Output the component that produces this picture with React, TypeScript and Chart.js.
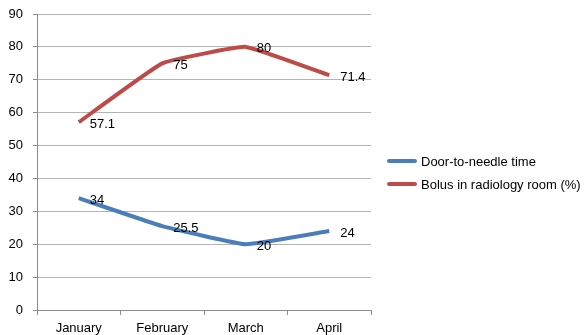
import React, { useEffect, useRef } from "react";
import { Chart, registerables } from "chart.js";

Chart.register(...registerables);

const months = ["January", "February", "March", "April"];
const doorToNeedle = [34, 25.5, 20, 24];
const bolusInRadiology = [57.1, 75, 80, 71.4];
const seriesNames = ["Door-to-needle time", "Bolus in radiology room (%)"];
const seriesColors = ["#4A7EBB", "#BE4B48"];

const FONT = "'Liberation Sans', Arial, Helvetica, sans-serif";

// Writes each point's value just to the right of it.
const valueLabels = {
  id: "valueLabels",
  afterDatasetsDraw(chart: any) {
    const { ctx } = chart;
    ctx.save();
    ctx.font = `13px ${FONT}`;
    ctx.fillStyle = "#000";
    ctx.textAlign = "left";
    ctx.textBaseline = "middle";
    chart.data.datasets.forEach((ds: any, i: number) => {
      const meta = chart.getDatasetMeta(i);
      meta.data.forEach((pt: any, j: number) => {
        ctx.fillText(String(ds.data[j]), pt.x + 11, pt.y + 2);
      });
    });
    ctx.restore();
  },
};

// Legend on the right: a short thick line then the series name.
const sideLegend = {
  id: "sideLegend",
  afterDraw(chart: any) {
    const { ctx } = chart;
    ctx.save();
    ctx.font = `13px ${FONT}`;
    ctx.textAlign = "left";
    ctx.textBaseline = "middle";
    chart.data.datasets.forEach((ds: any, i: number) => {
      const y = 161 + i * 23;
      ctx.strokeStyle = ds.borderColor;
      ctx.lineWidth = 4;
      ctx.lineCap = "round";
      ctx.beginPath();
      ctx.moveTo(389, y);
      ctx.lineTo(415, y);
      ctx.stroke();
      ctx.fillStyle = "#000";
      ctx.fillText(ds.label, 421, y + 1);
    });
    ctx.restore();
  },
};

export default function App() {
  const canvasRef = useRef<HTMLCanvasElement>(null);

  useEffect(() => {
    if (!canvasRef.current) return;
    const chart = new Chart(canvasRef.current, {
      type: "line",
      data: {
        labels: months,
        datasets: [
          {
            label: seriesNames[0],
            data: doorToNeedle,
            borderColor: seriesColors[0],
            backgroundColor: seriesColors[0],
            borderWidth: 4,
            pointRadius: 0,
            tension: 0.1,
          },
          {
            label: seriesNames[1],
            data: bolusInRadiology,
            borderColor: seriesColors[1],
            backgroundColor: seriesColors[1],
            borderWidth: 4,
            pointRadius: 0,
            tension: 0.1,
          },
        ],
      },
      options: {
        responsive: false,
        animation: false,
        layout: { padding: { top: 14, right: 213, left: 0, bottom: 0 } },
        plugins: {
          legend: { display: false },
          tooltip: { enabled: false },
        },
        scales: {
          x: {
            offset: true,
            afterFit(scale: any) {
              scale.height = 25;
              scale.paddingLeft = 0;
              scale.paddingRight = 0;
            },
            grid: {
              offset: true,
              drawOnChartArea: false,
              drawTicks: true,
              tickLength: 5,
              color: "#8c8c8c",
            },
            border: { color: "#8c8c8c", width: 1 },
            ticks: {
              color: "#000",
              font: { family: FONT, size: 13 },
              padding: 6,
              maxRotation: 0,
            },
          },
          y: {
            min: 0,
            max: 90,
            afterFit(scale: any) {
              scale.width = 37;
              scale.paddingTop = 0;
              scale.paddingBottom = 0;
            },
            ticks: {
              stepSize: 10,
              color: "#000",
              font: { family: FONT, size: 13 },
              padding: 10,
            },
            grid: {
              color: "#b4b4b4",
              tickColor: "#8c8c8c",
              tickLength: 4,
            },
            border: { color: "#8c8c8c", width: 1 },
          },
        },
      },
      plugins: [valueLabels, sideLegend],
    });
    return () => chart.destroy();
  }, []);

  return (
    <div style={{ position: "fixed", left: 0, top: 0, width: 584, height: 335, background: "#fff" }}>
      <canvas ref={canvasRef} width={584} height={335} style={{ display: "block" }} />
    </div>
  );
}
